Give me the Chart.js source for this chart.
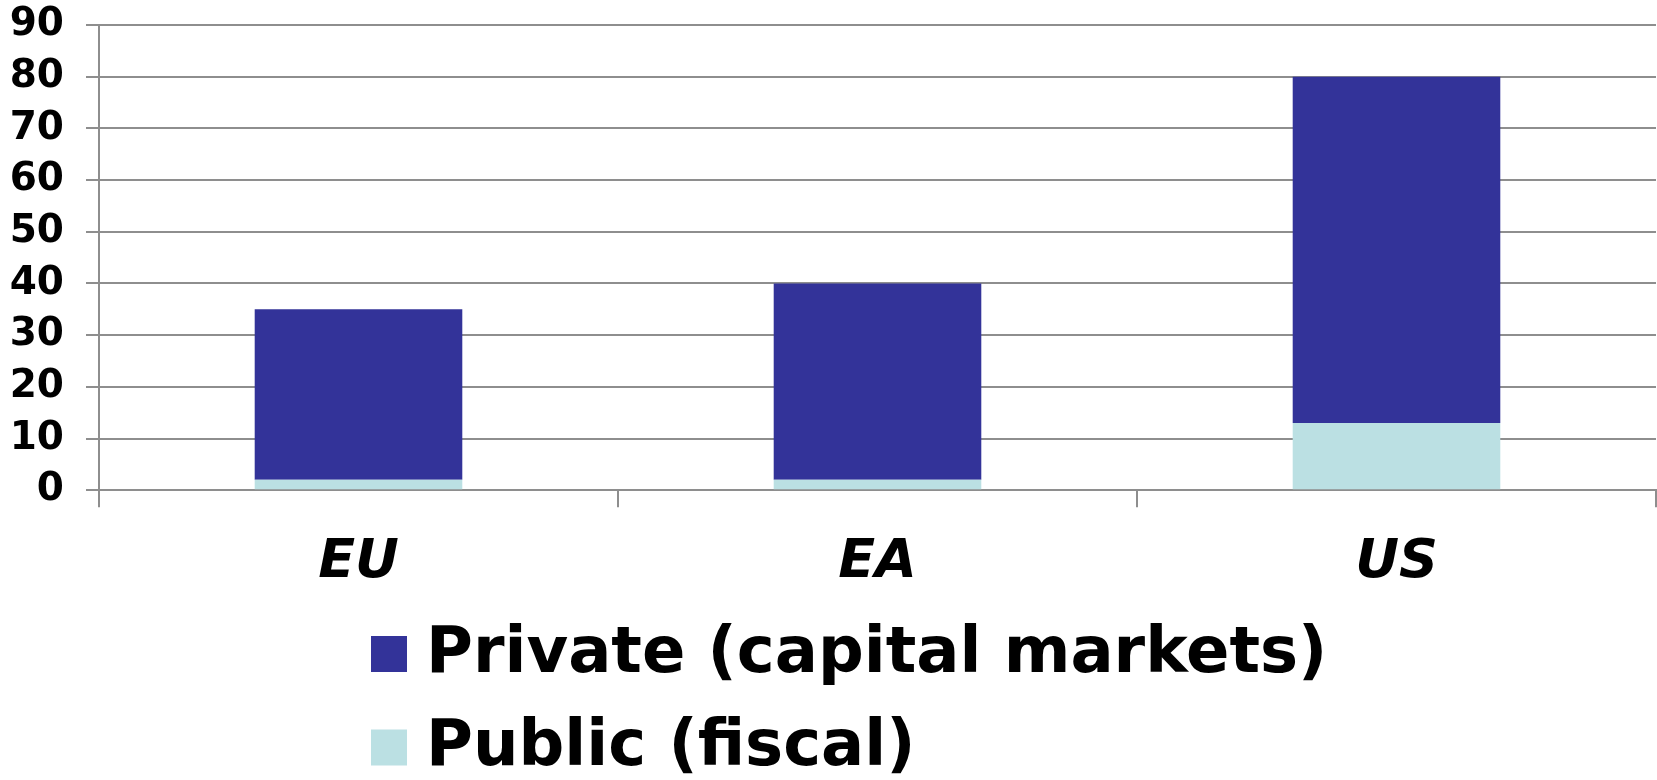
<!DOCTYPE html>
<html>
<head>
<meta charset="utf-8">
<script src="https://cdn.jsdelivr.net/npm/chart.js@4.4.1/dist/chart.umd.min.js"></script>
<style>
html, body { margin: 0; padding: 0; background: #ffffff; }
#wrap { width: 1657px; height: 780px; }
</style>
</head>
<body>
<div id="wrap"><canvas id="c" width="1657" height="780"></canvas></div>
<script>
const categories = ['EU', 'EA', 'US'];
const publicFiscal = [2, 2, 13];
const privateCapital = [33, 38, 67];
const yTicks = [0, 10, 20, 30, 40, 50, 60, 70, 80, 90];
const seriesNames = ['Public (fiscal)', 'Private (capital markets)'];

const FONT = '"DejaVu Sans", Verdana, sans-serif';
const GRID = '#8e8e8e';

const customLegend = {
  id: 'customLegend',
  afterDraw(chart) {
    const ctx = chart.ctx;
    const ds = chart.data.datasets.slice().reverse();
    const rows = [654, 747.5];
    ctx.save();
    ctx.font = 'bold 64px ' + FONT;
    ctx.textBaseline = 'middle';
    ctx.textAlign = 'left';
    ds.forEach((d, i) => {
      const cy = rows[i];
      ctx.fillStyle = d.backgroundColor;
      ctx.fillRect(371, cy - 18, 36, 36);
      ctx.fillStyle = '#000000';
      ctx.fillText(d.label, 426, cy + 1);
    });
    ctx.restore();
  }
};

new Chart(document.getElementById('c'), {
  type: 'bar',
  data: {
    labels: categories,
    datasets: [
      { label: seriesNames[0], data: publicFiscal, backgroundColor: '#bbe0e3', borderWidth: 0 },
      { label: seriesNames[1], data: privateCapital, backgroundColor: '#333399', borderWidth: 0 }
    ]
  },
  options: {
    responsive: false,
    animation: false,
    layout: { padding: { top: 0, left: 0, right: 1, bottom: 162 } },
    categoryPercentage: 1.0,
    barPercentage: 0.4,
    plugins: {
      legend: { display: false },
      tooltip: { enabled: false }
    },
    scales: {
      x: {
        stacked: true,
        grid: { display: true, drawOnChartArea: false, drawTicks: true, tickLength: 17, color: GRID, lineWidth: 2, offset: true },
        border: { display: true, color: GRID, width: 2 },
        ticks: { color: '#000000', padding: 23, font: { family: FONT, size: 54, weight: 'bold', style: 'italic' } }
      },
      y: {
        stacked: true,
        min: 0,
        max: 90,
        afterBuildTicks(axis) { axis.ticks = yTicks.map(v => ({ value: v })); },
        afterFit(axis) { axis.width = 99; axis.paddingTop = 25; axis.paddingBottom = 0; },
        grid: { color: GRID, lineWidth: 2, drawTicks: true, tickLength: 13 },
        border: { display: true, color: GRID, width: 2 },
        ticks: { color: '#000000', padding: 22, autoSkip: false, font: { family: FONT, size: 39, weight: 'bold' } }
      }
    }
  },
  plugins: [customLegend]
});
</script>
</body>
</html>
